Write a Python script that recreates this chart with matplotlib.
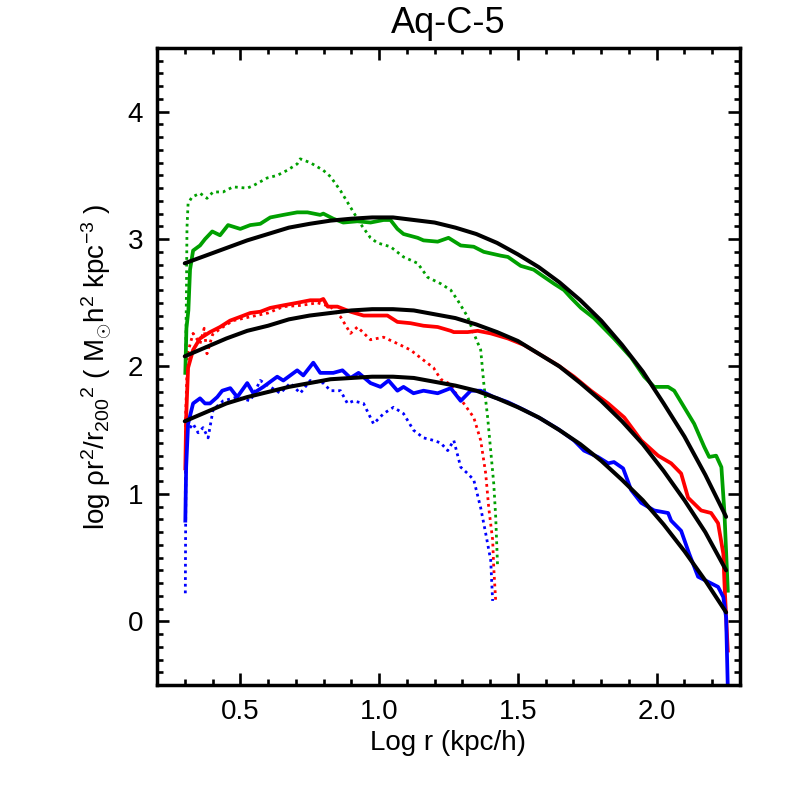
import matplotlib
matplotlib.use('Agg')
import matplotlib.pyplot as plt
from matplotlib.ticker import MultipleLocator

plt.rcParams['font.family'] = ['Liberation Sans', 'DejaVu Sans']
plt.rcParams['mathtext.fontset'] = 'custom'
plt.rcParams['mathtext.rm'] = 'Liberation Sans'
plt.rcParams['mathtext.it'] = 'Liberation Sans'

# --- profiles (log r, log rho r^2 / r200^2) ---
green_x = [0.302, 0.306, 0.313, 0.319, 0.33, 0.355, 0.373, 0.399, 0.427, 0.456, 0.50, 0.536,
           0.572, 0.608, 0.655, 0.705, 0.742, 0.788, 0.799, 0.835, 0.871, 0.922, 0.969, 1.016,
           1.041, 1.066, 1.088, 1.139, 1.16, 1.211, 1.25, 1.294, 1.341, 1.377, 1.438, 1.464,
           1.51, 1.557, 1.583, 1.63, 1.666, 1.691, 1.727, 1.774, 1.81, 1.846, 1.908, 1.955,
           1.991, 2.041, 2.063, 2.099, 2.135, 2.171, 2.189, 2.214, 2.233, 2.244, 2.256]
green_y = [1.95, 2.30, 2.44, 2.76, 2.91, 2.95, 3.00, 3.06, 3.03, 3.11, 3.08, 3.11,
           3.12, 3.17, 3.19, 3.21, 3.21, 3.19, 3.20, 3.16, 3.13, 3.14, 3.13, 3.15,
           3.15, 3.08, 3.04, 3.01, 2.99, 2.98, 3.01, 2.95, 2.94, 2.90, 2.87, 2.86,
           2.79, 2.76, 2.72, 2.65, 2.60, 2.54, 2.46, 2.38, 2.30, 2.22, 2.07, 1.92,
           1.84, 1.84, 1.81, 1.68, 1.55, 1.37, 1.29, 1.30, 1.21, 0.85, 0.24]

green_dot_x = [0.303, 0.306, 0.308, 0.312, 0.326, 0.355, 0.38, 0.402, 0.438, 0.474, 0.525, 0.547,
               0.597, 0.633, 0.669, 0.705, 0.716, 0.752, 0.799, 0.825, 0.861, 0.897, 0.933,
               0.969, 0.994, 1.041, 1.088, 1.139, 1.175, 1.222, 1.258, 1.283, 1.319, 1.341,
               1.366, 1.377, 1.391, 1.402, 1.413, 1.42, 1.427]
green_dot_y = [2.00, 2.57, 3.09, 3.28, 3.33, 3.36, 3.32, 3.37, 3.37, 3.41, 3.40, 3.42,
               3.48, 3.50, 3.54, 3.59, 3.63, 3.60, 3.54, 3.49, 3.38, 3.25, 3.12,
               3.01, 2.97, 2.94, 2.86, 2.81, 2.70, 2.65, 2.60, 2.52, 2.39, 2.26,
               2.13, 1.87, 1.60, 1.34, 1.08, 0.82, 0.42]

red_x = [0.302, 0.305, 0.312, 0.33, 0.355, 0.391, 0.427, 0.463, 0.50, 0.536, 0.572, 0.608,
         0.655, 0.705, 0.752, 0.788, 0.799, 0.815, 0.85, 0.897, 0.944, 0.994, 1.03, 1.066,
         1.113, 1.16, 1.211, 1.258, 1.269, 1.319, 1.355, 1.402, 1.464, 1.521, 1.583, 1.644,
         1.702, 1.763, 1.825, 1.883, 1.944, 2.005, 2.052, 2.088, 2.113, 2.16, 2.196, 2.221,
         2.24, 2.244, 2.256]
red_y = [1.20, 1.60, 1.99, 2.13, 2.22, 2.27, 2.31, 2.36, 2.39, 2.42, 2.43, 2.46,
         2.48, 2.50, 2.52, 2.52, 2.53, 2.47, 2.47, 2.43, 2.40, 2.40, 2.40, 2.35,
         2.34, 2.32, 2.31, 2.28, 2.27, 2.27, 2.28, 2.26, 2.22, 2.17, 2.09, 2.01,
         1.92, 1.81, 1.71, 1.60, 1.42, 1.30, 1.24, 1.16, 0.97, 0.87, 0.85, 0.77,
         0.53, 0.30, -0.23]

red_dot_x = [0.302, 0.303, 0.31, 0.33, 0.355, 0.37, 0.38, 0.40, 0.43, 0.474, 0.536, 0.60,
             0.655, 0.72, 0.778, 0.825, 0.861, 0.897, 0.922, 0.969, 1.016, 1.066, 1.113,
             1.16, 1.196, 1.222, 1.258, 1.269, 1.305, 1.341, 1.366, 1.384, 1.395, 1.409,
             1.413, 1.42]
red_dot_y = [0.95, 1.60, 2.10, 2.26, 2.18, 2.30, 2.10, 2.25, 2.30, 2.36, 2.39, 2.42,
             2.47, 2.48, 2.50, 2.47, 2.39, 2.26, 2.31, 2.21, 2.23, 2.18, 2.13,
             2.05, 1.99, 1.90, 1.86, 1.81, 1.71, 1.60, 1.42, 1.16, 0.89, 0.64,
             0.42, 0.16]

blue_x = [0.302, 0.305, 0.312, 0.33, 0.355, 0.373, 0.391, 0.417, 0.435, 0.464, 0.489, 0.525,
          0.547, 0.583, 0.633, 0.655, 0.705, 0.727, 0.763, 0.788, 0.835, 0.868, 0.897, 0.926,
          0.969, 1.005, 1.034, 1.066, 1.088, 1.124, 1.16, 1.211, 1.258, 1.294, 1.33, 1.366,
          1.413, 1.464, 1.521, 1.583, 1.644, 1.702, 1.738, 1.788, 1.825, 1.846, 1.879, 1.908,
          1.944, 1.991, 2.041, 2.052, 2.088, 2.117, 2.149, 2.185, 2.221, 2.24, 2.25, 2.256]
blue_y = [0.79, 1.21, 1.55, 1.71, 1.75, 1.71, 1.71, 1.76, 1.81, 1.83, 1.76, 1.87,
          1.79, 1.84, 1.92, 1.89, 1.97, 1.93, 2.03, 1.95, 1.95, 1.97, 1.91, 1.95,
          1.87, 1.84, 1.89, 1.81, 1.84, 1.79, 1.81, 1.79, 1.83, 1.73, 1.81, 1.81,
          1.76, 1.72, 1.66, 1.59, 1.51, 1.42, 1.34, 1.29, 1.24, 1.25, 1.20, 1.03,
          0.93, 0.87, 0.85, 0.79, 0.71, 0.53, 0.35, 0.31, 0.27, 0.19, 0.03, -0.52]

blue_dot_x = [0.302, 0.303, 0.305, 0.33, 0.348, 0.366, 0.384, 0.402, 0.438, 0.489, 0.536,
              0.572, 0.608, 0.644, 0.68, 0.716, 0.752, 0.799, 0.825, 0.861, 0.886, 0.908,
              0.944, 0.98, 1.016, 1.052, 1.088, 1.124, 1.16, 1.196, 1.222, 1.247, 1.269,
              1.294, 1.319, 1.341, 1.366, 1.384, 1.402, 1.409]
blue_dot_y = [0.22, 0.69, 1.48, 1.55, 1.48, 1.52, 1.44, 1.66, 1.73, 1.76, 1.73,
              1.89, 1.84, 1.79, 1.87, 1.79, 1.89, 1.87, 1.81, 1.81, 1.71, 1.73,
              1.71, 1.55, 1.63, 1.68, 1.63, 1.50, 1.44, 1.42, 1.40, 1.34, 1.42,
              1.21, 1.16, 1.11, 0.89, 0.69, 0.48, 0.16]

# fitted profiles (black)
fit_x = [0.300, 0.375, 0.450, 0.525, 0.600, 0.675, 0.750, 0.825, 0.900, 0.975, 1.050, 1.125,
         1.200, 1.275, 1.350, 1.425, 1.500, 1.575, 1.650, 1.725, 1.800, 1.875, 1.950, 2.025,
         2.100, 2.175, 2.250]
fit_green = [2.81, 2.87, 2.93, 2.99, 3.04, 3.09, 3.12, 3.145, 3.16, 3.17, 3.17, 3.15,
             3.13, 3.09, 3.04, 2.97, 2.88, 2.78, 2.66, 2.52, 2.36, 2.17, 1.96, 1.71,
             1.45, 1.15, 0.82]
fit_red = [2.08, 2.15, 2.22, 2.28, 2.32, 2.37, 2.40, 2.42, 2.44, 2.45, 2.45, 2.44,
           2.41, 2.38, 2.33, 2.27, 2.20, 2.10, 2.00, 1.87, 1.73, 1.57, 1.39, 1.18,
           0.95, 0.70, 0.40]
fit_blue = [1.57, 1.64, 1.71, 1.76, 1.80, 1.84, 1.87, 1.90, 1.91, 1.92, 1.92, 1.91,
            1.88, 1.85, 1.81, 1.75, 1.68, 1.60, 1.50, 1.39, 1.26, 1.11, 0.95, 0.76,
            0.55, 0.32, 0.07]

GREEN = '#00a000'
RED = '#ff0000'
BLUE = '#0000ff'

fig = plt.figure(figsize=(7.86, 7.86), dpi=100, facecolor='white')
ax = fig.add_axes([157 / 786, 101 / 786, 583 / 786, 637 / 786])

dots = (0, (1, 1.4))
ax.plot(green_dot_x, green_dot_y, color=GREEN, lw=2, ls=dots)
ax.plot(red_dot_x, red_dot_y, color=RED, lw=2, ls=dots)
ax.plot(blue_dot_x, blue_dot_y, color=BLUE, lw=2, ls=dots)

ax.plot(green_x, green_y, color=GREEN, lw=2.7)
ax.plot(red_x, red_y, color=RED, lw=2.7)
ax.plot(blue_x, blue_y, color=BLUE, lw=2.7)

for fy in (fit_green, fit_red, fit_blue):
    ax.plot(fit_x, fy, color='black', lw=2.9, solid_capstyle='round')

ax.set_xlim(0.2, 2.3)
ax.set_ylim(-0.5, 4.5)
ax.xaxis.set_minor_locator(MultipleLocator(0.1))
ax.yaxis.set_minor_locator(MultipleLocator(0.1))
ax.set_xticks([0.5, 1.0, 1.5, 2.0])
ax.set_xticklabels(['0.5', '1.0', '1.5', '2.0'])
ax.set_yticks([0, 1, 2, 3, 4])

ax.tick_params(which='both', direction='in', top=True, right=True, labelsize=20, width=1.9)
ax.tick_params(which='major', length=8.5, pad=10)
ax.tick_params(which='minor', length=4.3)
for sp in ax.spines.values():
    sp.set_linewidth(2.5)

ax.set_title('Aq-C-5', fontsize=26, pad=11)
ax.set_xlabel('Log r (kpc/h)', fontsize=20, labelpad=4)
ax.set_ylabel(r'log ρr$^2$/r$_{200}$$^2$ ( M$_{\odot}$h$^2$ kpc$^{-3}$ )', fontsize=20, labelpad=10)

fig.savefig('out.png', dpi=100, facecolor='white')
